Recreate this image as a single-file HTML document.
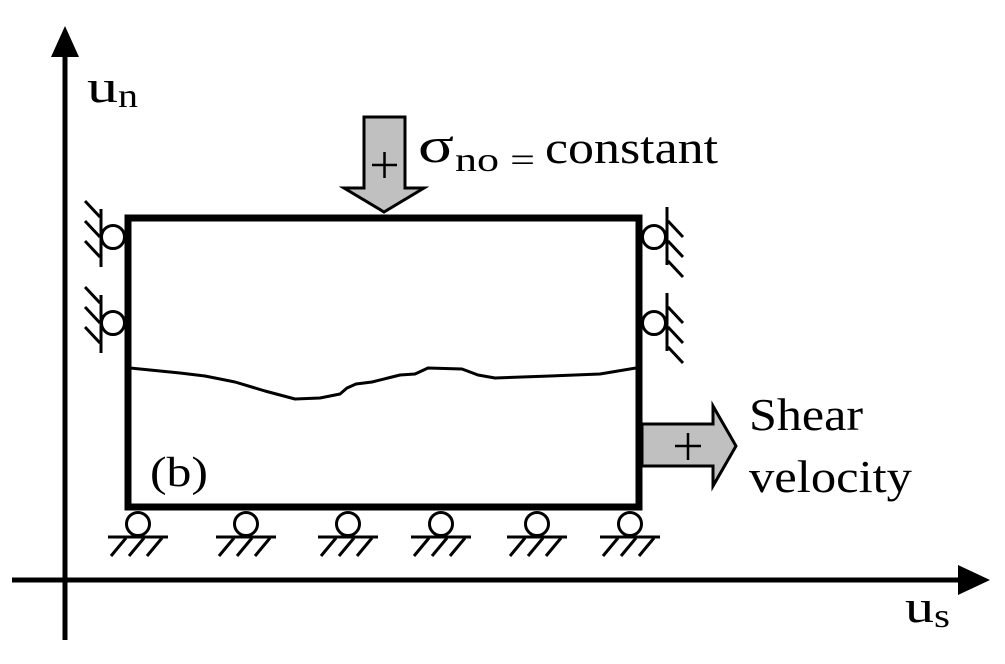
<!DOCTYPE html>
<html><head><meta charset="utf-8"><style>
html,body{margin:0;padding:0;background:#fff;}
svg{display:block;}
svg text{font-family:"Liberation Serif","DejaVu Serif","Noto Serif CJK SC",serif;}
</style></head><body>
<svg width="1005" height="664" viewBox="0 0 1005 664" xmlns="http://www.w3.org/2000/svg">
<!-- axes -->
<g>
<line x1="65" y1="640" x2="65" y2="50" stroke="#000" stroke-width="5"/>
<polygon points="65,26 51,57 79,57" fill="#000"/>
</g>
<g>
<line x1="12" y1="580" x2="965" y2="580" stroke="#000" stroke-width="5"/>
<polygon points="990,580 958,565 958,595" fill="#000"/>
</g>
<text x="87" y="102" font-size="46" textLength="31" lengthAdjust="spacingAndGlyphs">u</text>
<text x="118" y="107" font-size="34" textLength="20" lengthAdjust="spacingAndGlyphs">n</text>
<text x="905" y="622" font-size="46" textLength="29" lengthAdjust="spacingAndGlyphs">u</text>
<text x="934" y="627" font-size="34" textLength="16" lengthAdjust="spacingAndGlyphs">s</text>

<!-- box -->
<rect x="128" y="218" width="511" height="289" fill="none" stroke="#000" stroke-width="7"/>
<polyline fill="none" stroke="#000" stroke-width="3" stroke-linejoin="round"
points="130,368 150,370 180,373 205,376 235,382 265,391 295,399 320,398 340,394 347,388 356,384 372,382 388,378 400,375 415,374 428,368 462,369 478,375 495,378 550,376 600,374 636,368"/>
<text x="150" y="486" font-size="42" textLength="58" lengthAdjust="spacingAndGlyphs">(b)</text>

<!-- top arrow -->
<g>
<polygon points="364,117 405,117 405,188 424,188 384,212 344,188 364,188" fill="#c0c0c0" stroke="#000" stroke-width="3"/>
<line x1="372" y1="165" x2="397" y2="165" stroke="#000" stroke-width="2.5"/>
<line x1="384.5" y1="152" x2="384.5" y2="178" stroke="#000" stroke-width="2.5"/>
</g>
<text x="418" y="162" font-size="50" textLength="36" lengthAdjust="spacingAndGlyphs">σ</text>
<text x="455" y="171" font-size="34" textLength="80" lengthAdjust="spacingAndGlyphs">no =</text>
<text x="545" y="163" font-size="46" textLength="173" lengthAdjust="spacingAndGlyphs">constant</text>

<!-- shear arrow -->
<g>
<polygon points="642,424 713,424 713,406 736,446 713,486 713,466 642,466" fill="#c0c0c0" stroke="#000" stroke-width="3"/>
<line x1="675" y1="446" x2="701" y2="446" stroke="#000" stroke-width="2.5"/>
<line x1="688" y1="433" x2="688" y2="460" stroke="#000" stroke-width="2.5"/>
</g>
<text x="749" y="430" font-size="46" textLength="114" lengthAdjust="spacingAndGlyphs">Shear</text>
<text x="749" y="492" font-size="46" textLength="163" lengthAdjust="spacingAndGlyphs">velocity</text>

<!-- bottom rollers -->
<g stroke="#000" stroke-width="3" fill="#fff">
<g transform="translate(138,0)"><circle cx="0" cy="524" r="11.5"/><line x1="-30" y1="537" x2="30" y2="537"/><line x1="-12" y1="538" x2="-27" y2="556"/><line x1="6" y1="538" x2="-9" y2="556"/><line x1="24" y1="538" x2="9" y2="556"/></g>
<g transform="translate(246,0)"><circle cx="0" cy="524" r="11.5"/><line x1="-30" y1="537" x2="30" y2="537"/><line x1="-12" y1="538" x2="-27" y2="556"/><line x1="6" y1="538" x2="-9" y2="556"/><line x1="24" y1="538" x2="9" y2="556"/></g>
<g transform="translate(348,0)"><circle cx="0" cy="524" r="11.5"/><line x1="-30" y1="537" x2="30" y2="537"/><line x1="-12" y1="538" x2="-27" y2="556"/><line x1="6" y1="538" x2="-9" y2="556"/><line x1="24" y1="538" x2="9" y2="556"/></g>
<g transform="translate(441,0)"><circle cx="0" cy="524" r="11.5"/><line x1="-30" y1="537" x2="30" y2="537"/><line x1="-12" y1="538" x2="-27" y2="556"/><line x1="6" y1="538" x2="-9" y2="556"/><line x1="24" y1="538" x2="9" y2="556"/></g>
<g transform="translate(537,0)"><circle cx="0" cy="524" r="11.5"/><line x1="-30" y1="537" x2="30" y2="537"/><line x1="-12" y1="538" x2="-27" y2="556"/><line x1="6" y1="538" x2="-9" y2="556"/><line x1="24" y1="538" x2="9" y2="556"/></g>
<g transform="translate(630,0)"><circle cx="0" cy="524" r="11.5"/><line x1="-30" y1="537" x2="30" y2="537"/><line x1="-12" y1="538" x2="-27" y2="556"/><line x1="6" y1="538" x2="-9" y2="556"/><line x1="24" y1="538" x2="9" y2="556"/></g>
</g>

<!-- left rollers -->
<g stroke="#000" stroke-width="3" fill="#fff">
<g transform="translate(0,237)"><circle cx="113" cy="0" r="11.5"/><line x1="101" y1="-28" x2="101" y2="30"/><line x1="100" y1="-20" x2="85" y2="-36"/><line x1="100" y1="0" x2="85" y2="-16"/><line x1="100" y1="20" x2="85" y2="4"/></g>
<g transform="translate(0,323)"><circle cx="113" cy="0" r="11.5"/><line x1="101" y1="-28" x2="101" y2="30"/><line x1="100" y1="-20" x2="85" y2="-36"/><line x1="100" y1="0" x2="85" y2="-16"/><line x1="100" y1="20" x2="85" y2="4"/></g>
</g>

<!-- right rollers -->
<g stroke="#000" stroke-width="3" fill="#fff">
<g transform="translate(0,237)"><circle cx="654" cy="0" r="11.5"/><line x1="667" y1="-30" x2="667" y2="28"/><line x1="668" y1="-16" x2="683" y2="0"/><line x1="668" y1="4" x2="683" y2="20"/><line x1="668" y1="24" x2="683" y2="40"/></g>
<g transform="translate(0,323)"><circle cx="654" cy="0" r="11.5"/><line x1="667" y1="-30" x2="667" y2="28"/><line x1="668" y1="-16" x2="683" y2="0"/><line x1="668" y1="4" x2="683" y2="20"/><line x1="668" y1="24" x2="683" y2="40"/></g>
</g>
</svg>
</body></html>
